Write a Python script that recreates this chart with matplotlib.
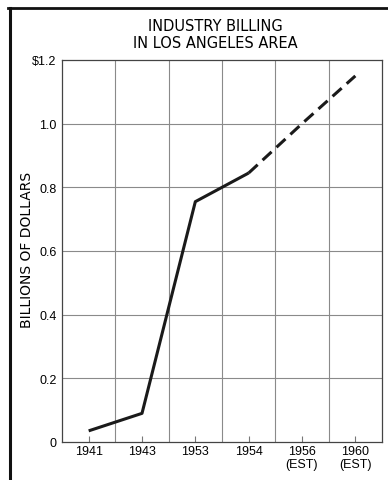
import matplotlib
matplotlib.use("Agg")
import matplotlib.pyplot as plt
from matplotlib.lines import Line2D

years = ["1941", "1943", "1953", "1954", "1956\n(EST)", "1960\n(EST)"]
actual_vals = [0.035, 0.09, 0.755, 0.845]
estimate_vals = [0.845, 1.0, 1.15]
ytick_vals = [0, 0.2, 0.4, 0.6, 0.8, 1.0, 1.2]
ytick_labels = ["0", "0.2", "0.4", "0.6", "0.8", "1.0", "$1.2"]
title = "INDUSTRY BILLING\nIN LOS ANGELES AREA"
ylabel = "BILLIONS OF DOLLARS"

plt.rcParams['font.family'] = ['Liberation Sans', 'DejaVu Sans']

fig = plt.figure(figsize=(3.88, 4.81), dpi=100)
ax = fig.add_axes([62/388, 1-443/481, 320/388, 382/481])

x_all = [i + 0.5 for i in range(len(years))]
ax.plot(x_all[:4], actual_vals, color="#1a1a1a", lw=2.2, solid_capstyle="butt")
ax.plot(x_all[3:], estimate_vals, color="#1a1a1a", lw=2.2, dashes=(4, 2.2))

ax.set_xlim(0, 6)
ax.set_ylim(0, 1.2)
ax.set_xticks(x_all)
ax.set_xticklabels(years, fontsize=9, linespacing=1.15)
ax.set_yticks(ytick_vals)
ax.set_yticklabels(ytick_labels, fontsize=9)
ax.tick_params(axis="x", direction="in", length=4, width=0.8, color="#777777", pad=2)
ax.tick_params(axis="y", length=0, pad=4)

for xv in range(1, 6):
    ax.axvline(xv, color="#8a8a8a", lw=0.8, zorder=0)
for yv in ytick_vals[1:-1]:
    ax.axhline(yv, color="#8a8a8a", lw=0.8, zorder=0)

for s in ax.spines.values():
    s.set_color("#444444")
    s.set_linewidth(0.9)

fig.text(215/388, 1 - 35/481, title, ha="center", va="center", fontsize=10.5,
         linespacing=1.15, family=["DejaVu Sans"])
fig.text(27/388, 1 - 250/481, ylabel, rotation=90, ha="center", va="center",
         fontsize=10, family=["DejaVu Sans"])

fig.add_artist(Line2D([8/388, 1.0], [1 - 9/481, 1 - 9/481], transform=fig.transFigure,
                      color="#111111", lw=2.0))
fig.add_artist(Line2D([10/388, 10/388], [0, 1 - 9/481], transform=fig.transFigure,
                      color="#111111", lw=2.2))

fig.savefig("out.png", dpi=100, facecolor="white")
